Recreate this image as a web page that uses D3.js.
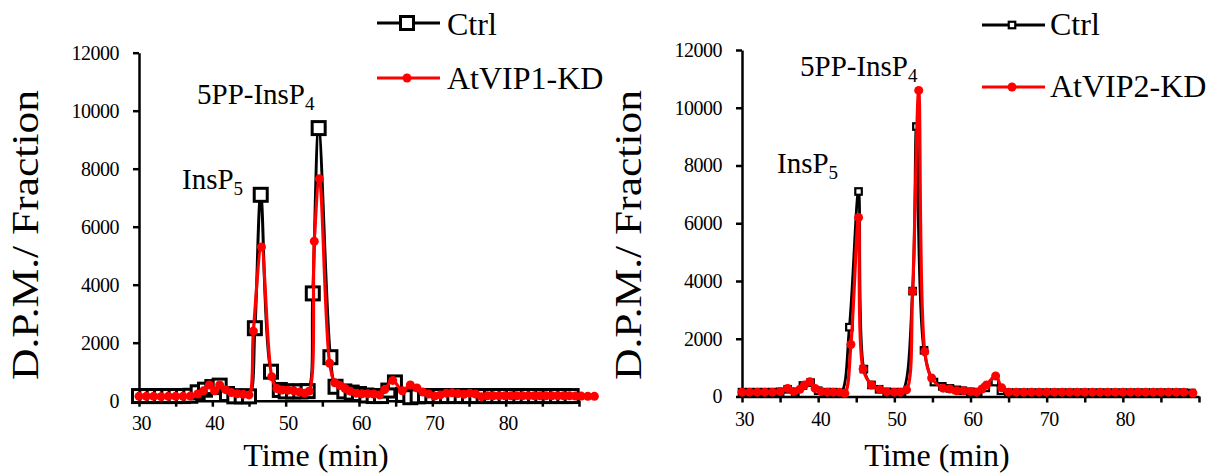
<!DOCTYPE html>
<html>
<head>
<meta charset="utf-8">
<script src="https://cdn.jsdelivr.net/npm/d3@7"></script>
<style>
  html, body { margin: 0; padding: 0; background: #fff; }
  svg { display: block; font-family: 'Liberation Serif', 'DejaVu Serif', serif; }
  svg text { font-family: 'Liberation Serif', 'DejaVu Serif', serif !important; fill: #000; }
</style>
</head>
<body>
<svg id="chart" width="1217" height="474"></svg>
<script>
// ---------------- DATA ----------------
const xTickValues = [30, 35, 40, 45, 50, 55, 60, 65, 70, 75, 80, 85, 90];
const xTickLabels = [30, 40, 50, 60, 70, 80];
const yTickValues = [0, 2000, 4000, 6000, 8000, 10000, 12000];

// Left panel: Ctrl
const ctrl1Time = [30,31,32,33,34,35,36,37,38,39,40,41,42,43,44,45,45.8,46.6,48,49.2,50,51,52,53,53.7,54.5,56.1,56.8,58,59,60,61,62,63,64,64.9,66,67,68,69,70,71,72,73,74,75,76,77,78,79,80,81,82,83,84,85,86,87,88,89];
const ctrl1Value = [160,160,160,160,160,160,160,170,290,380,470,520,230,150,150,150,2500,7100,1000,370,320,320,320,330,3700,9400,1500,480,320,280,230,180,160,160,350,630,200,120,150,160,160,160,160,160,160,160,160,160,160,160,160,160,160,160,160,160,160,160,160,160];
// Left panel: AtVIP1-KD
const kd1Time = [30,31,32,33,34,35,36,37,38,38.8,39.6,40.3,41,41.8,42.6,43.4,44.2,45,45.6,46.7,48.1,48.8,49.5,50.3,51.1,51.9,52.6,53.2,53.9,54.6,56,56.7,57.4,58.1,58.8,59.6,60.4,61.2,62,62.8,63.5,64.6,65.9,67,67.9,68.7,69.5,70.3,71.1,71.9,72.7,73.5,74.3,75.1,75.9,76.7,77.5,78.3,79.1,79.9,80.7,81.5,82.3,83.1,83.9,84.7,85.5,86.3,87.1,87.9,88.7,89.5,90.3,91.2,92.1];
const kd1Value = [150,150,150,140,150,150,150,160,230,340,540,340,540,380,280,240,220,200,2400,5300,830,420,370,360,340,300,260,330,5500,7650,1290,620,520,420,330,260,240,240,230,200,380,700,345,540,440,300,230,160,200,260,270,250,220,260,230,140,170,170,170,170,170,170,170,170,170,170,170,170,170,170,170,160,160,150,150];

// Right panel: Ctrl
const ctrl2Time = [30,31,32,33,34,35,36,37,38,39,40,41,42,43,44.1,45.3,46,47,48,49,50,51,52.4,52.9,53.9,55.2,56.3,57.3,58.2,59,60,61,62,63.2,64,65,66,67,68,69,70,71,72,73,74,75,76,77,78,79,80,81,82,83,84,85,86,87,88,89];
const ctrl2Value = [150,150,150,150,150,160,250,150,380,480,200,150,150,130,2400,7100,950,400,250,160,150,150,3650,9350,1600,500,350,280,230,200,160,150,300,500,200,130,130,130,130,130,130,130,130,130,130,130,130,130,130,130,130,130,130,130,130,130,130,130,130,120];
// Right panel: AtVIP2-KD
const kd2Time = [30,31,32,33,34,35,36,36.8,37.6,38.2,38.9,39.6,40.4,41.2,42,42.8,43.5,44.3,45.3,45.9,47,48.1,49,50,50.8,51.6,52.4,53.2,54,54.9,56.4,57.3,58.2,59.1,60,60.8,61.5,62.1,63.3,64.1,65,66,67,68,69,70,71,72,73,74,75,76,77,78,79,80,81,82,83,84,85,86,87,88,89.2];
const kd2Value = [150,150,150,150,150,170,280,170,250,400,510,280,170,150,150,150,110,1800,6200,950,400,240,160,150,150,230,3650,10600,1550,640,290,260,200,200,170,150,260,400,710,300,150,150,150,150,150,150,150,150,150,150,150,150,150,150,150,150,150,150,150,150,150,150,150,150,120];

const panels = [
  { ctrlT: ctrl1Time, ctrlV: ctrl1Value, kdT: kd1Time, kdV: kd1Value, kdName: "AtVIP1-KD",
    xr: [139, 579], yr: [400.7, 52.7], big: true,
    legend: { x: 377, y1: 23, y2: 78, tx: 447, b1: 35, b2: 89 },
    ann5pp: { x: 197, y: 104 }, annP5: { x: 182, y: 189 },
    xt: { x: 316, y: 466 }, yt: { x: 25, y: 235 } },
  { ctrlT: ctrl2Time, ctrlV: ctrl2Value, kdT: kd2Time, kdV: kd2Value, kdName: "AtVIP2-KD",
    xr: [742, 1199], yr: [396.5, 50], big: false,
    legend: { x: 982, y1: 25, y2: 87, tx: 1050, b1: 35, b2: 97 },
    ann5pp: { x: 800, y: 76 }, annP5: { x: 777, y: 173 },
    xt: { x: 937, y: 466 }, yt: { x: 628, y: 235 } }
];

// ---------------- DRAW ----------------
const FONT = "'Liberation Serif', 'DejaVu Serif', serif";
const svg = d3.select("#chart");

panels.forEach(p => {
  const x = d3.scaleLinear().domain([30, 90]).range(p.xr);
  const y = d3.scaleLinear().domain([0, 12000]).range(p.yr);
  const g = svg.append("g");

  // axes
  const xAxis = d3.axisBottom(x).tickValues(xTickValues).tickSize(6).tickSizeOuter(0).tickPadding(9)
    .tickFormat(v => xTickLabels.includes(v) ? String(v) : "");
  const gx = g.append("g").attr("transform", `translate(0,${p.yr[0]})`).call(xAxis);
  const yAxis = d3.axisLeft(y).tickValues(yTickValues).tickSize(6).tickSizeOuter(0).tickPadding(14)
    .tickFormat(d3.format("d"));
  const gy = g.append("g").attr("transform", `translate(${p.xr[0]},0)`).call(yAxis);
  [gx, gy].forEach(a => {
    a.attr("font-family", null).attr("font-size", null);
    a.select(".domain").attr("stroke", "#000").attr("stroke-width", 2.5);
    a.selectAll(".tick line").attr("stroke", "#000").attr("stroke-width", 2.5);
    a.selectAll(".tick text").style("font-family", FONT).style("font-size", "20px")
      .attr("letter-spacing", "-0.5px").attr("fill", "#000");
  });
  gx.selectAll(".tick text").attr("dx", 2);

  const line = d3.line().curve(d3.curveCatmullRom.alpha(0.5)).x(d => x(d[0])).y(d => y(d[1]));
  const ctrl = p.ctrlT.map((t, i) => [t, p.ctrlV[i]]);
  const kd = p.kdT.map((t, i) => [t, p.kdV[i]]);

  const sq = p.big ? 13 : 6.5;
  const sqW = p.big ? 3 : 2.2;
  // Ctrl series
  g.append("path").datum(ctrl).attr("d", line).attr("fill", "none").attr("stroke", "#000")
    .attr("stroke-width", p.big ? 3 : 2.8).attr("stroke-linejoin", "round");
  g.append("g").selectAll("rect").data(ctrl).join("rect")
    .attr("x", d => x(d[0]) - sq / 2).attr("y", d => y(d[1]) - sq / 2)
    .attr("width", sq).attr("height", sq)
    .attr("fill", "#fff").attr("stroke", "#000").attr("stroke-width", sqW);

  // KD series
  g.append("path").datum(kd).attr("d", line).attr("fill", "none").attr("stroke", "#ff0000")
    .attr("stroke-width", 3.2).attr("stroke-linejoin", "round");
  g.append("g").selectAll("circle").data(kd).join("circle")
    .attr("cx", d => x(d[0])).attr("cy", d => y(d[1])).attr("r", 4.5).attr("fill", "#ff0000");

  const txt = (sel, size) => sel.style("font-family", FONT).style("font-size", size + "px");

  // legend
  const L = p.legend;
  g.append("line").attr("x1", L.x).attr("x2", L.x + 63).attr("y1", L.y1).attr("y2", L.y1)
    .attr("stroke", "#000").attr("stroke-width", p.big ? 3 : 2.8);
  g.append("rect").attr("x", L.x + 30 - sq / 2).attr("y", L.y1 - sq / 2).attr("width", sq).attr("height", sq)
    .attr("fill", "#fff").attr("stroke", "#000").attr("stroke-width", sqW);
  txt(g.append("text").attr("x", L.tx).attr("y", L.b1), 32).text("Ctrl");
  g.append("line").attr("x1", L.x).attr("x2", L.x + 63).attr("y1", L.y2).attr("y2", L.y2)
    .attr("stroke", "#ff0000").attr("stroke-width", 3);
  g.append("circle").attr("cx", L.x + 30).attr("cy", L.y2).attr("r", 4.5).attr("fill", "#ff0000");
  txt(g.append("text").attr("x", L.tx).attr("y", L.b2), 32).text(p.kdName);

  // annotations
  const a1 = txt(g.append("text").attr("x", p.ann5pp.x).attr("y", p.ann5pp.y), 29);
  a1.append("tspan").text("5PP-InsP");
  a1.append("tspan").style("font-size", "19px").attr("dy", 6).text("4");
  const a2 = txt(g.append("text").attr("x", p.annP5.x).attr("y", p.annP5.y), 29);
  a2.append("tspan").text("InsP");
  a2.append("tspan").style("font-size", "19px").attr("dy", 6).text("5");

  // axis titles
  txt(g.append("text").attr("x", p.xt.x).attr("y", p.xt.y).attr("text-anchor", "middle"), 32)
    .text("Time (min)");
  txt(g.append("text").attr("transform", `translate(${p.yt.x},${p.yt.y}) rotate(-90)`)
    .attr("text-anchor", "middle").attr("dy", "0.35em")
    .attr("textLength", 290).attr("lengthAdjust", "spacingAndGlyphs"), 38)
    .text("D.P.M./ Fraction");
});
</script>
</body>
</html>
